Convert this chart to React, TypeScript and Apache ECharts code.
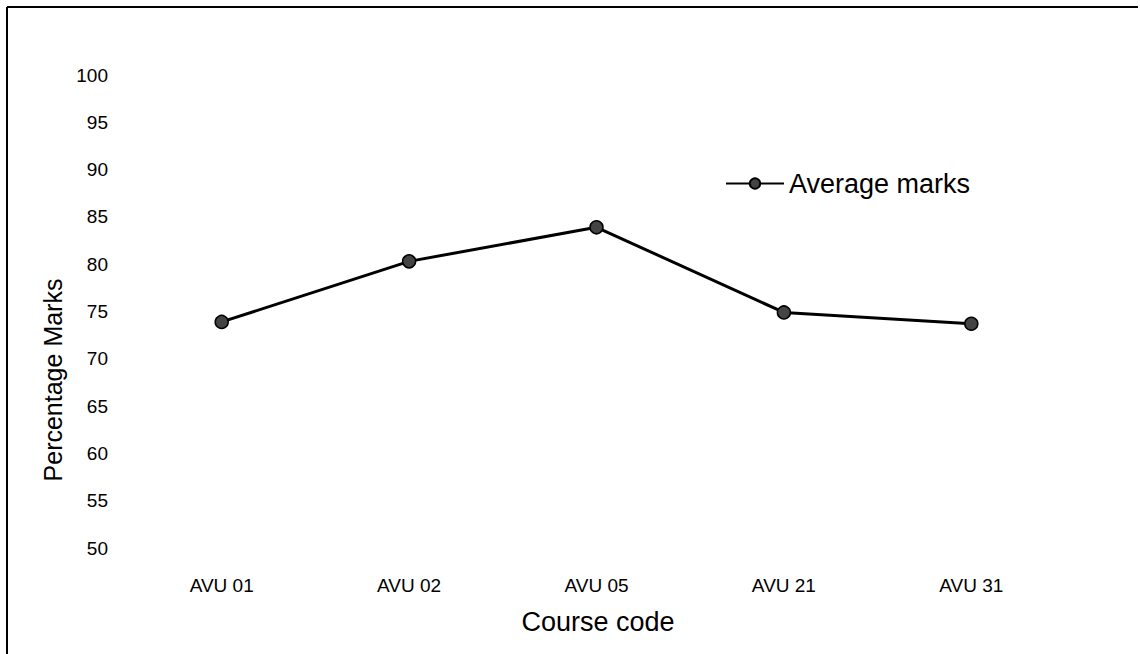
import React, { useEffect, useRef } from "react";
import * as echarts from "echarts";

const categories = ["AVU 01", "AVU 02", "AVU 05", "AVU 21", "AVU 31"];
const averageMarks = [73.9, 80.3, 83.9, 74.9, 73.7];
const seriesName = "Average marks";
const xTitle = "Course code";
const yTitle = "Percentage Marks";

export default function App() {
  const ref = useRef<HTMLDivElement>(null);
  useEffect(() => {
    if (!ref.current) return;
    const chart = echarts.init(ref.current, null, { renderer: "svg" });
    const font = "Liberation Sans, Arial, sans-serif";
    chart.setOption({
      animation: false,
      backgroundColor: "#ffffff",
      textStyle: { fontFamily: font },
      legend: {
        data: [seriesName],
        left: 720,
        top: 165,
        itemWidth: 58,
        itemHeight: 13,
        itemGap: 6,
        textStyle: { fontSize: 27, color: "#000", fontFamily: font },
      },
      grid: { left: 128, right: 75, top: 75, bottom: 106, containLabel: false },
      xAxis: {
        type: "category",
        data: categories,
        boundaryGap: true,
        axisLine: { show: false },
        axisTick: { show: false },
        axisLabel: { color: "#000", fontSize: 19, margin: 28, fontFamily: font },
        splitLine: { show: false },
      },
      yAxis: {
        type: "value",
        min: 50,
        max: 100,
        interval: 5,
        axisLine: { show: false },
        axisTick: { show: false },
        splitLine: { show: false },
        axisLabel: { color: "#000", fontSize: 19, margin: 20, fontFamily: font },
      },
      series: [
        {
          name: seriesName,
          type: "line",
          data: averageMarks,
          symbol: "circle",
          symbolSize: 13,
          lineStyle: { color: "#000", width: 3 },
          itemStyle: { color: "#444", borderColor: "#000", borderWidth: 1.5 },
        },
      ],
      graphic: [
        {
          type: "line",
          shape: { x1: 7, y1: 7, x2: 1138, y2: 7 },
          style: { stroke: "#000", lineWidth: 2 },
        },
        {
          type: "line",
          shape: { x1: 7, y1: 7, x2: 7, y2: 654 },
          style: { stroke: "#000", lineWidth: 2 },
        },
        {
          type: "text",
          x: 598,
          y: 622,
          style: {
            text: xTitle,
            fontSize: 27,
            fill: "#000",
            fontFamily: font,
            align: "center",
            verticalAlign: "middle",
          },
        },
        {
          type: "text",
          x: 53,
          y: 380,
          rotation: Math.PI / 2,
          style: {
            text: yTitle,
            fontSize: 25,
            fill: "#000",
            fontFamily: font,
            align: "center",
            verticalAlign: "middle",
          },
        },
      ],
    });
    return () => chart.dispose();
  }, []);
  return (
    <div
      ref={ref}
      style={{ position: "fixed", left: 0, top: 0, width: 1140, height: 654 }}
    />
  );
}
